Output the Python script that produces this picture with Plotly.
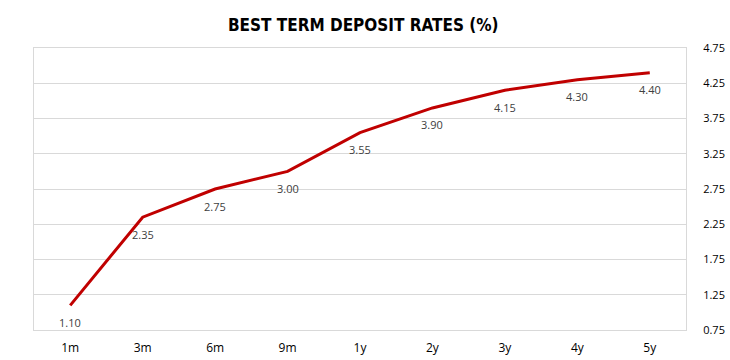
import plotly.graph_objects as go

categories = ["1m", "3m", "6m", "9m", "1y", "2y", "3y", "4y", "5y"]
rates = [1.10, 2.35, 2.75, 3.00, 3.55, 3.90, 4.15, 4.30, 4.40]
y_ticks = [0.75, 1.25, 1.75, 2.25, 2.75, 3.25, 3.75, 4.25, 4.75]
title_text = "BEST TERM DEPOSIT RATES (%)"

fig = go.Figure()
fig.add_trace(go.Scatter(
    x=categories, y=rates, mode="lines",
    line=dict(color="#C00000", width=3),
    hoverinfo="skip", showlegend=False,
))

for c, v in zip(categories, rates):
    fig.add_annotation(
        x=c, y=v, text=f"{v:.2f}", showarrow=False,
        yshift=-17, yanchor="middle", xanchor="center",
        font=dict(family="Open Sans", size=11, color="#404040"),
    )

fig.update_layout(
    width=730, height=360,
    margin=dict(l=34, r=44, t=48, b=30, autoexpand=False),
    paper_bgcolor="white", plot_bgcolor="white",
    title=dict(
        text=f"<b>{title_text}</b>", x=0.505, xanchor="center",
        xref="paper", yref="container",
        y=1 - 25 / 360, yanchor="middle", automargin=False,
        font=dict(family="DejaVu Sans Condensed", size=17, color="#000000"),
    ),
    xaxis=dict(
        type="category", categoryorder="array", categoryarray=categories,
        range=[-0.5, len(categories) - 0.5], automargin=False,
        showgrid=False, showline=True, linecolor="#D9D9D9", linewidth=1,
        mirror=True, ticks="", ticklabelstandoff=7,
        tickfont=dict(family="Open Sans", size=12, color="#000000"),
        zeroline=False, fixedrange=True,
    ),
    yaxis=dict(
        side="right", range=[0.75, 4.75], tickvals=y_ticks,
        ticktext=[f"{t:.2f}" for t in y_ticks], automargin=False,
        showgrid=True, gridcolor="#D9D9D9", gridwidth=1,
        showline=True, linecolor="#D9D9D9", linewidth=1, mirror=True,
        ticks="", ticklabelstandoff=14,
        tickfont=dict(family="Open Sans", size=11, color="#000000"),
        zeroline=False, fixedrange=True,
    ),
)

fig.write_html(
    "out.html",
    config={"displayModeBar": False},
    post_script="document.body.style.margin='0';document.body.style.padding='0';",
)
